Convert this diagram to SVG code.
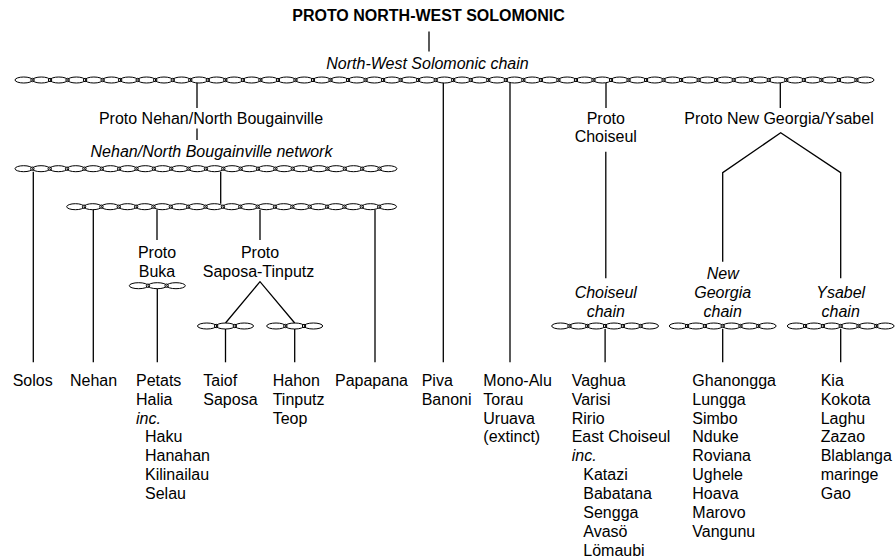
<svg xmlns="http://www.w3.org/2000/svg" width="896" height="559" viewBox="0 0 896 559">
<style>
.bg{fill:#fff}
.ln{stroke:#000;stroke-width:1.3;fill:none}
.lk{stroke:#000;stroke-width:1;fill:none}
.jn{stroke:#000;stroke-width:1;fill:#fff}
.t{font-family:"Liberation Sans",Arial,Helvetica,sans-serif;font-size:16px;fill:#000}
.i{font-style:italic}
.b{font-weight:bold}
.m{text-anchor:middle}
</style>
<defs>
<g id="uM"><ellipse class="lk" cx="8.765" cy="0" rx="8.765" ry="3"/><circle class="jn" cx="17.53" cy="0" r="1.7"/></g>
<g id="uM2"><use href="#uM"/><use href="#uM" x="17.53"/></g>
<g id="uM4"><use href="#uM2"/><use href="#uM2" x="35.06"/></g>
<g id="uM8"><use href="#uM4"/><use href="#uM4" x="70.12"/></g>
<g id="uM16"><use href="#uM8"/><use href="#uM8" x="140.24"/></g>
<g id="uM32"><use href="#uM16"/><use href="#uM16" x="280.48"/></g>
<g id="uN"><ellipse class="lk" cx="8.68" cy="0" rx="8.68" ry="3"/><circle class="jn" cx="17.36" cy="0" r="1.7"/></g>
<g id="uN2"><use href="#uN"/><use href="#uN" x="17.36"/></g>
<g id="uN4"><use href="#uN2"/><use href="#uN2" x="34.72"/></g>
<g id="uN8"><use href="#uN4"/><use href="#uN4" x="69.44"/></g>
<g id="uN16"><use href="#uN8"/><use href="#uN8" x="138.88"/></g>
<g id="uS"><ellipse class="lk" cx="9.335" cy="0" rx="9.335" ry="3"/><circle class="jn" cx="18.67" cy="0" r="1.7"/></g>
<g id="cS"><use href="#uS"/><use href="#uS" x="18.67"/><ellipse class="lk" cx="46.675" cy="0" rx="9.335" ry="3"/></g>
<g id="uC"><ellipse class="lk" cx="8.9" cy="0" rx="8.9" ry="3"/><circle class="jn" cx="17.8" cy="0" r="1.7"/></g>
<g id="uC2"><use href="#uC"/><use href="#uC" x="17.8"/></g>
<g id="uC4"><use href="#uC2"/><use href="#uC2" x="35.6"/></g>
<g id="cC"><use href="#uC4"/><use href="#uC" x="71.2"/><ellipse class="lk" cx="97.9" cy="0" rx="8.9" ry="3"/></g>
</defs>
<rect class="bg" x="0" y="0" width="896" height="559"/>

<g id="connectors">
<line class="ln" x1="429" y1="31.5" x2="429" y2="51.5"/>
<line class="ln" x1="197" y1="83" x2="197" y2="108"/>
<line class="ln" x1="197" y1="128.5" x2="197" y2="140"/>
<line class="ln" x1="443.3" y1="83" x2="443.3" y2="362.3"/>
<line class="ln" x1="510" y1="83" x2="510" y2="362.3"/>
<line class="ln" x1="606" y1="83" x2="606" y2="108"/>
<line class="ln" x1="780.3" y1="83" x2="780.3" y2="108"/>
<line class="ln" x1="33.3" y1="171.7" x2="33.3" y2="362.3"/>
<line class="ln" x1="220.7" y1="171.7" x2="220.7" y2="203.7"/>
<line class="ln" x1="93.3" y1="209.7" x2="93.3" y2="362.3"/>
<line class="ln" x1="157" y1="209.7" x2="157" y2="240"/>
<line class="ln" x1="260" y1="209.7" x2="260" y2="240"/>
<line class="ln" x1="375" y1="209.7" x2="375" y2="362.3"/>
<line class="ln" x1="157.3" y1="288.7" x2="157.3" y2="362.3"/>
<polyline class="ln" points="225.5,323 260,281.7 294.7,323"/>
<line class="ln" x1="225.5" y1="329" x2="225.5" y2="362.3"/>
<line class="ln" x1="294.7" y1="329" x2="294.7" y2="362.3"/>
<line class="ln" x1="605.8" y1="151.7" x2="605.8" y2="278.3"/>
<polyline class="ln" points="722.7,261.7 722.7,172.7 780.7,132.7 840.7,172.7 840.7,278.3"/>
<line class="ln" x1="605.1" y1="329" x2="605.1" y2="362.3"/>
<line class="ln" x1="722.7" y1="329" x2="722.7" y2="362.3"/>
<line class="ln" x1="840.7" y1="329" x2="840.7" y2="362.3"/>
</g>

<g id="proto-nws">
<text class="t b m" x="428.5" y="20.5">PROTO NORTH-WEST SOLOMONIC</text>
</g>
<g id="nws-chain">
<text class="t i m" x="427.5" y="68.5">North-West Solomonic chain</text>
<g transform="translate(15,80)">
<use href="#uM32"/>
<use href="#uM16" x="560.96"/>
<ellipse class="lk" cx="850.205" cy="0" rx="8.765" ry="3"/>
</g>
</g>

<g id="proto-nehan">
<text class="t m" x="211" y="123.5">Proto Nehan/North Bougainville</text>
</g>
<g id="nehan-network">
<text class="t i m" x="211.5" y="156.5">Nehan/North Bougainville network</text>
<g transform="translate(15,168.7)">
<use href="#uN16"/>
<use href="#uN4" x="277.76"/>
<use href="#uN" x="347.2"/>
<ellipse class="lk" cx="373.24" cy="0" rx="8.68" ry="3"/>
</g>
<g transform="translate(66.7,206.7)">
<use href="#uN16"/>
<use href="#uN2" x="277.76"/>
<ellipse class="lk" cx="321.16" cy="0" rx="8.68" ry="3"/>
</g>
</g>

<g id="proto-buka">
<text class="t m" x="157" y="258.3">Proto</text>
<text class="t m" x="157" y="277">Buka</text>
<use href="#cS" transform="translate(129.3,285.7)"/>
</g>

<g id="proto-saposa-tinputz">
<text class="t m" x="260" y="258.3">Proto</text>
<text class="t m" x="258.5" y="277">Saposa-Tinputz</text>
</g>
<g id="taiof-chain"><use href="#cS" transform="translate(197.5,326)"/></g>
<g id="hahon-chain"><use href="#cS" transform="translate(266.7,326)"/></g>

<g id="proto-choiseul">
<text class="t m" x="605.8" y="123.5">Proto</text>
<text class="t m" x="605.8" y="142.4">Choiseul</text>
</g>
<g id="choiseul-chain">
<text class="t i m" x="605.8" y="297.6">Choiseul</text>
<text class="t i m" x="605.8" y="316.5">chain</text>
<use href="#cC" transform="translate(551.7,326)"/>
</g>

<g id="proto-ngy">
<text class="t m" x="779" y="123.5">Proto New Georgia/Ysabel</text>
</g>
<g id="new-georgia-chain">
<text class="t i m" x="722.7" y="278.7">New</text>
<text class="t i m" x="722.7" y="297.6">Georgia</text>
<text class="t i m" x="722.7" y="316.5">chain</text>
<use href="#cC" transform="translate(669.3,326)"/>
</g>
<g id="ysabel-chain">
<text class="t i m" x="840.7" y="297.6">Ysabel</text>
<text class="t i m" x="840.7" y="316.5">chain</text>
<use href="#cC" transform="translate(787.3,326)"/>
</g>

<g id="solos"><text class="t" x="12.7" y="385.7">Solos</text></g>
<g id="nehan"><text class="t" x="70" y="385.7">Nehan</text></g>
<g id="petats">
<text class="t" x="136" y="385.7">Petats</text>
<text class="t" x="136" y="404.6">Halia</text>
<text class="t i" x="136" y="423.5">inc.</text>
<text class="t" x="145" y="442.4">Haku</text>
<text class="t" x="145" y="461.3">Hanahan</text>
<text class="t" x="145" y="480.2">Kilinailau</text>
<text class="t" x="145" y="499.1">Selau</text>
</g>
<g id="taiof">
<text class="t" x="203.3" y="385.7">Taiof</text>
<text class="t" x="203.3" y="404.6">Saposa</text>
</g>
<g id="hahon">
<text class="t" x="272.7" y="385.7">Hahon</text>
<text class="t" x="272.7" y="404.6">Tinputz</text>
<text class="t" x="272.7" y="423.5">Teop</text>
</g>
<g id="papapana"><text class="t" x="335" y="385.7">Papapana</text></g>
<g id="piva">
<text class="t" x="421.7" y="385.7">Piva</text>
<text class="t" x="421.7" y="404.6">Banoni</text>
</g>
<g id="mono-alu">
<text class="t" x="483.3" y="385.7">Mono-Alu</text>
<text class="t" x="483.3" y="404.6">Torau</text>
<text class="t" x="483.3" y="423.5">Uruava</text>
<text class="t" x="483.3" y="442.4">(extinct)</text>
</g>
<g id="choiseul-langs">
<text class="t" x="571.7" y="385.7">Vaghua</text>
<text class="t" x="571.7" y="404.6">Varisi</text>
<text class="t" x="571.7" y="423.5">Ririo</text>
<text class="t" x="571.7" y="442.4">East Choiseul</text>
<text class="t i" x="571.7" y="461.3">inc.</text>
<text class="t" x="583.3" y="480.2">Katazi</text>
<text class="t" x="583.3" y="499.1">Babatana</text>
<text class="t" x="583.3" y="518">Sengga</text>
<text class="t" x="583.3" y="536.9">Avasö</text>
<text class="t" x="583.3" y="555.8">Lömaubi</text>
</g>
<g id="new-georgia-langs">
<text class="t" x="692.3" y="385.7">Ghanongga</text>
<text class="t" x="692.3" y="404.6">Lungga</text>
<text class="t" x="692.3" y="423.5">Simbo</text>
<text class="t" x="692.3" y="442.4">Nduke</text>
<text class="t" x="692.3" y="461.3">Roviana</text>
<text class="t" x="692.3" y="480.2">Ughele</text>
<text class="t" x="692.3" y="499.1">Hoava</text>
<text class="t" x="692.3" y="518">Marovo</text>
<text class="t" x="692.3" y="536.9">Vangunu</text>
</g>
<g id="ysabel-langs">
<text class="t" x="820.7" y="385.7">Kia</text>
<text class="t" x="820.7" y="404.6">Kokota</text>
<text class="t" x="820.7" y="423.5">Laghu</text>
<text class="t" x="820.7" y="442.4">Zazao</text>
<text class="t" x="820.7" y="461.3">Blablanga</text>
<text class="t" x="820.7" y="480.2">maringe</text>
<text class="t" x="820.7" y="499.1">Gao</text>
</g>
</svg>
